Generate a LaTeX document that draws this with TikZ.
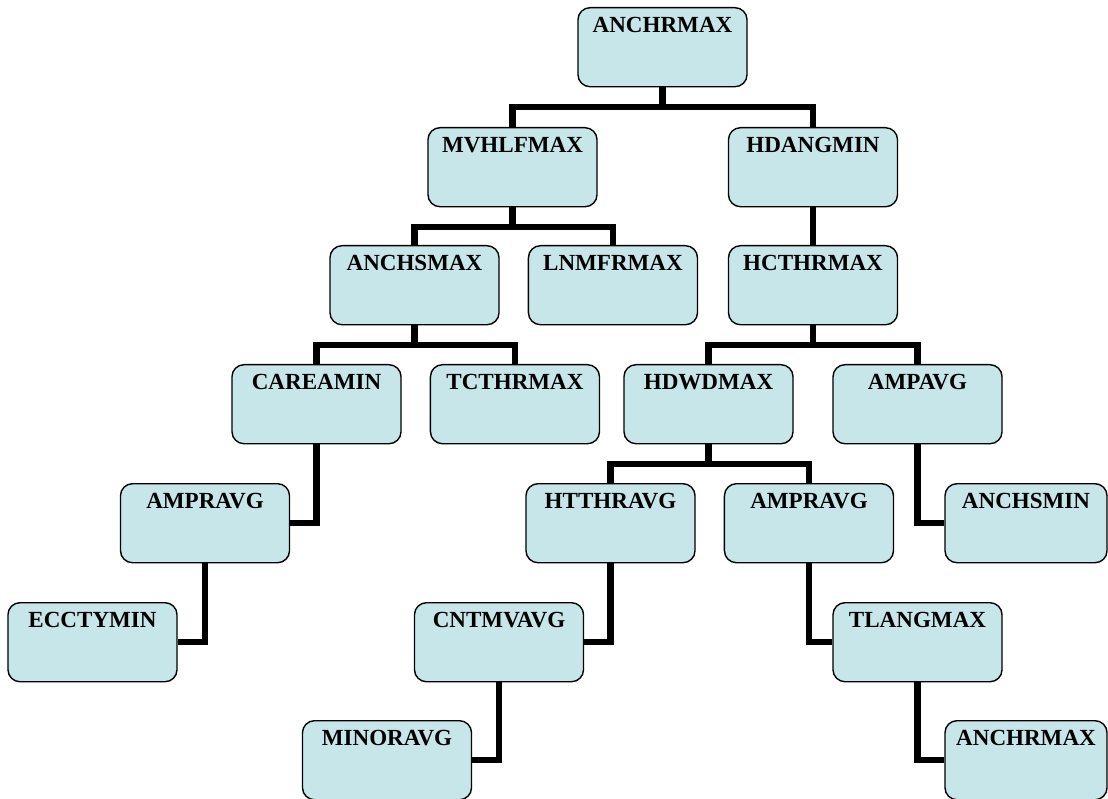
\documentclass[tikz,border=0pt]{standalone}
\usepackage{fontspec}
\setmainfont{Liberation Serif}
\usetikzlibrary{positioning,calc}
\definecolor{boxfill}{RGB}{199,230,233}

\begin{document}
\begin{tikzpicture}[x=0.025cm,y=-0.025cm,every node/.style={block},
        block/.style={draw,fill=boxfill,rounded corners=0.3cm,line width=1pt,inner sep=0pt,
          minimum width=4.225cm,text height=0.625cm,text depth=1.35cm,anchor=north,
          font=\fontsize{16.4}{18}\selectfont\bfseries,node distance=0.7cm},
        narrow/.style={minimum width=4.05cm},
        link/.style={line width=4.3pt}]
   \useasboundingbox (0,0) rectangle (1108,799);
   \node (A) at (662.5,7) {ANCHRMAX};
   \node (B) at (512.5,127) {MVHLFMAX};
   \node (C) at (813,127) {HDANGMIN};
   \node (D) at (414.5,245) {ANCHSMAX};
   \node (E) [right=of D] {LNMFRMAX};
   \node (F) at (813,245) {HCTHRMAX};
   \node (G) at (316.5,364) {CAREAMIN};
   \node (H) [right=of G] {TCTHRMAX};
   \node (I) at (708.5,364) {HDWDMAX};
   \node (J) at (917.5,364) {AMPAVG};
   \node (K) at (205,483) {AMPRAVG};
   \node (L) at (610.5,483) {HTTHRAVG};
   \node (M) [right=of L] {AMPRAVG};
   \node (N) [narrow] at (1026,483) {ANCHSMIN};
   \node (O) at (92.5,602) {ECCTYMIN};
   \node (P) at (499,602) {CNTMVAVG};
   \node (Q) at (917.5,602) {TLANGMAX};
   \node (R) at (387,720) {MINORAVG};
   \node (S) [narrow] at (1026,720) {ANCHRMAX};
   \draw[link] (A.south) -- ++(0,20) -| (B.north) (A.south) ++(0,20) -| (C.north);
   \draw[link] (C) -- (F);
   \draw[link] (B.south) -- ++(0,20) -| (D.north) (B.south) ++(0,20) -| (E.north);
   \draw[link] (D.south) -- ++(0,20) -| (G.north) (D.south) ++(0,20) -| (H.north);
   \draw[link] (F.south) -- ++(0,20) -| (I.north) (F.south) ++(0,20) -| (J.north);
   \draw[link] (I.south) -- ++(0,20) -| (L.north) (I.south) ++(0,20) -| (M.north);
   \draw[link] (G.south) |- (K.east);
   \draw[link] (J.south) |- (N.west);
   \draw[link] (K.south) |- (O.east);
   \draw[link] (L.south) |- (P.east);
   \draw[link] (M.south) |- (Q.west);
   \draw[link] (P.south) |- (R.east);
   \draw[link] (Q.south) |- (S.west);
\end{tikzpicture}
\end{document}
